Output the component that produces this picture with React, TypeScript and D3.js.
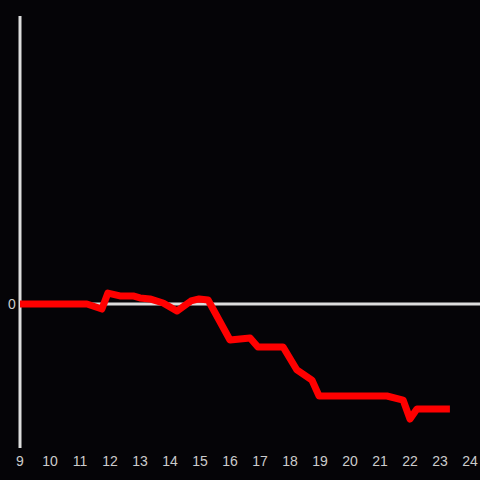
import React, { useRef, useEffect } from 'react';
import * as d3 from 'd3';

// values
const xs = [9, 11.23, 11.73, 11.93, 12.33, 12.77, 13.0, 13.33, 13.77, 14.23, 14.7, 14.97, 15.27, 16.0, 16.67, 16.93, 17.77, 18.23, 18.73, 18.97, 21.23, 21.77, 22.0, 22.23, 23.33];
const ys = [0, 0, -0.035, 0.076, 0.056, 0.056, 0.042, 0.035, 0.007, -0.049, 0.021, 0.035, 0.028, -0.25, -0.236, -0.299, -0.299, -0.458, -0.528, -0.639, -0.639, -0.667, -0.799, -0.729, -0.729];
const xTicks = [9, 10, 11, 12, 13, 14, 15, 16, 17, 18, 19, 20, 21, 22, 23, 24];
const yTicks = [0];

const App: React.FC = () => {
    const svgRef = useRef<SVGSVGElement>(null);

    useEffect(() => {
        const width = 480;
        const height = 480;
        const svg = d3.select(svgRef.current);
        svg.selectAll('*').remove();

        const x = d3.scaleLinear().domain([9, 24]).range([20, 470]);
        const y = d3.scaleLinear().domain([-1, 2]).range([448, 16]);

        svg.append('rect')
            .attr('width', width)
            .attr('height', height)
            .attr('fill', '#050407');

        // y axis line
        svg.append('line')
            .attr('x1', x(9)).attr('x2', x(9))
            .attr('y1', y(2)).attr('y2', y(-1))
            .attr('stroke', '#dddddd')
            .attr('stroke-width', 3);

        // zero line
        svg.append('line')
            .attr('x1', x(9)).attr('x2', width)
            .attr('y1', y(0)).attr('y2', y(0))
            .attr('stroke', '#dddddd')
            .attr('stroke-width', 3);

        const font = '"Liberation Sans", Arial, sans-serif';

        svg.append('g')
            .selectAll('text')
            .data(xTicks)
            .join('text')
            .attr('x', d => x(d))
            .attr('y', 461)
            .attr('text-anchor', 'middle')
            .attr('dominant-baseline', 'central')
            .attr('fill', '#cccccc')
            .attr('font-family', font)
            .attr('font-size', 14)
            .text(d => d);

        svg.append('g')
            .selectAll('text')
            .data(yTicks)
            .join('text')
            .attr('x', 12)
            .attr('y', d => y(d))
            .attr('text-anchor', 'middle')
            .attr('dominant-baseline', 'central')
            .attr('fill', '#cccccc')
            .attr('font-family', font)
            .attr('font-size', 14)
            .text(d => d);

        const pts = xs.map((v, i) => [v, ys[i]] as [number, number]);
        const line = d3.line<[number, number]>()
            .x(d => x(d[0]))
            .y(d => y(d[1]));

        svg.append('path')
            .datum(pts)
            .attr('fill', 'none')
            .attr('stroke', '#ff0000')
            .attr('stroke-width', 7)
            .attr('stroke-linejoin', 'round')
            .attr('d', line);
    }, []);

    return (
        <svg ref={svgRef} width={480} height={480}
            style={{ position: 'absolute', left: 0, top: 0, display: 'block' }}></svg>
    );
};

export default App;
